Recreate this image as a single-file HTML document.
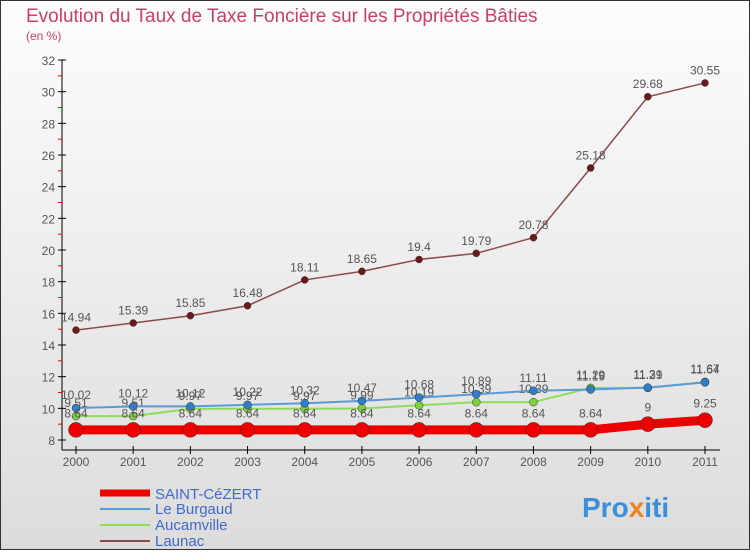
<!DOCTYPE html>
<html><head><meta charset="utf-8"><style>
body{margin:0;width:750px;height:550px;overflow:hidden;font-family:"Liberation Sans",sans-serif}
svg text{font-family:"Liberation Sans",sans-serif}
</style></head><body>
<svg id="c" width="750" height="550">
<defs><linearGradient id="bg" x1="0" y1="0" x2="0" y2="1"><stop offset="0" stop-color="#fdfdfd"/><stop offset="1" stop-color="#dcdcdc"/></linearGradient></defs>
<rect x="0.5" y="0.5" width="749" height="549" fill="url(#bg)" stroke="#333"/>
<text x="26" y="22" font-size="19" fill="#c8406a">Evolution du Taux de Taxe Foncière sur les Propriétés Bâties</text>
<text x="26" y="40" font-size="12" fill="#c8406a">(en %)</text>
<g id="axes"></g><g id="series"></g>
<g>
<line x1="100" y1="493" x2="150" y2="493" stroke="#e00" stroke-width="7"/>
<text x="155" y="499" font-size="15" fill="#4169c8">SAINT-CéZERT</text>
<line x1="100" y1="509" x2="150" y2="509" stroke="#5a9bd5" stroke-width="2"/>
<text x="155" y="514" font-size="15" fill="#4169c8">Le Burgaud</text>
<line x1="100" y1="525" x2="150" y2="525" stroke="#8fdc5a" stroke-width="2"/>
<text x="155" y="530" font-size="15" fill="#4169c8">Aucamville</text>
<line x1="100" y1="541" x2="150" y2="541" stroke="#8b4a4a" stroke-width="2"/>
<text x="155" y="546" font-size="15" fill="#4169c8">Launac</text>
</g>
<text x="582" y="517" font-size="28" font-weight="bold" fill="#3a8fd8">Pro<tspan fill="#f08020">x</tspan>iti</text>
</svg>
<script>
const years=[2000,2001,2002,2003,2004,2005,2006,2007,2008,2009,2010,2011];
const yTicks=[8,10,12,14,16,18,20,22,24,26,28,30,32];
const saint=[8.64,8.64,8.64,8.64,8.64,8.64,8.64,8.64,8.64,8.64,9,9.25];
const burgaud=[10.02,10.12,10.12,10.22,10.32,10.47,10.68,10.89,11.11,11.19,11.31,11.64];
const aucamville=[9.51,9.51,9.97,9.97,9.97,9.99,10.19,10.39,10.39,11.29,11.29,11.67];
const launac=[14.94,15.39,15.85,16.48,18.11,18.65,19.4,19.79,20.78,25.18,29.68,30.55];
const NS="http://www.w3.org/2000/svg";
const X=i=>76+i*(705-76)/11;
const Y=v=>60+(32-v)*(440-60)/24;
function mk(t,a,p){const e=document.createElementNS(NS,t);for(const k in a)e.setAttribute(k,a[k]);p.appendChild(e);return e;}
const ax=document.getElementById('axes'),sg=document.getElementById('series');
const ya=mk('line',{x1:62,y1:60,x2:62,y2:450,stroke:'#000'},ax);


const xa=mk('line',{x1:62,y1:450,x2:720,y2:450,stroke:'#000'},ax);


yTicks.forEach(v=>{
  mk('line',{x1:58,y1:Y(v),x2:66,y2:Y(v),stroke:'#000'},ax);
  if(v<32)mk('line',{x1:58,y1:Y(v+1),x2:62,y2:Y(v+1),stroke:'#e00'},ax);
  const t=mk('text',{x:55,y:Y(v)+5,'font-size':12,fill:'#555','text-anchor':'end'},ax);t.textContent=v;
  
  
});
years.forEach((y,i)=>{
  mk('line',{x1:X(i),y1:446,x2:X(i),y2:454,stroke:'#000'},ax);
  const t=mk('text',{x:X(i),y:466,'font-size':12,fill:'#555','text-anchor':'middle'},ax);t.textContent=y;
  
  
});
function series(vals,color,w,r,name,fill){
  const p=mk('polyline',{points:vals.map((v,i)=>X(i)+','+Y(v)).join(' '),fill:'none',stroke:color,'stroke-width':w},sg);
  
  
  vals.forEach((v,i)=>{
    const c=mk('circle',{cx:X(i),cy:Y(v),r:r,fill:fill,stroke:'#333','stroke-width':0.5},sg);
    
    
    const t=mk('text',{x:X(i),y:Y(v)-(r+5),'font-size':12,fill:'#555','text-anchor':'middle'},sg);
    t.textContent=v;
    
    
  });
}
series(launac,'#8b4a4a',1.5,3.5,'launac','#6a1a1a');
series(aucamville,'#8fdc5a',2,4,'aucamville','#7ed040');
series(burgaud,'#5a9bd5',2,4,'le-burgaud','#2f7fc8');
series(saint,'#e00',9,7.5,'saint-cezert','#e00');
</script>
</body></html>
